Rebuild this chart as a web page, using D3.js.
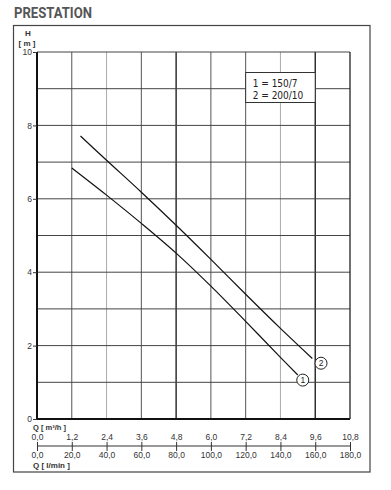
<!DOCTYPE html>
<html>
<head>
<meta charset="utf-8">
<script src="https://cdn.jsdelivr.net/npm/d3@7"></script>
<style>
  body { margin: 0; background: #fff; }
  text { font-family: "Liberation Sans", Arial, sans-serif; fill: #333; }
</style>
</head>
<body>
<div id="container"></div>
<script>
const width = 391;
const height = 490;

// chart data
const qTicks = [0, 1.2, 2.4, 3.6, 4.8, 6.0, 7.2, 8.4, 9.6, 10.8];      // m3/h
const lTicks = [0, 20, 40, 60, 80, 100, 120, 140, 160, 180];            // l/min
const hTicks = [0, 2, 4, 6, 8, 10];
const hGrid = [1, 2, 3, 4, 5, 6, 7, 8, 9, 10];

const curve1Q = [1.2, 2.4, 3.6, 4.8, 6.0, 7.2, 8.4, 9.0];
const curve1H = [6.84, 6.10, 5.33, 4.52, 3.62, 2.66, 1.68, 1.20];
const curve2Q = [1.5, 2.4, 3.6, 4.8, 6.0, 7.2, 8.4, 9.5];
const curve2H = [7.71, 7.05, 6.18, 5.28, 4.35, 3.40, 2.47, 1.65];

const curveLabels = ['1', '2'];
const labelQ = [9.17, 9.8];
const labelH = [1.06, 1.52];

const legendLines = ['1 = 150/7', '2 = 200/10'];

const fmt = v => d3.format('.1f')(v).replace('.', ',');

let svg = d3.select('#container').append('svg')
    .attr('width', width)
    .attr('height', height);

let x = d3.scaleLinear().domain([0, 10.8]).range([37, 350]);
let xl = d3.scaleLinear().domain([0, 180]).range([37, 350]);
let y = d3.scaleLinear().domain([0, 10]).range([419, 52]);

// title
svg.append('text')
    .attr('x', 14)
    .attr('y', 18)
    .attr('textLength', 78)
    .attr('lengthAdjust', 'spacingAndGlyphs')
    .style('font-family', 'Roboto, sans-serif')
    .style('font-weight', 'bold')
    .style('font-size', '14px')
    .style('fill', '#555')
    .text('PRESTATION');

// outer frame
svg.append('rect')
    .attr('x', 13.5)
    .attr('y', 25.5)
    .attr('width', 356.5)
    .attr('height', 446.5)
    .attr('fill', 'none')
    .attr('stroke', '#444')
    .attr('stroke-width', 1.2);

// grid
let grid = svg.append('g');
grid.selectAll('line.v')
    .data(qTicks.slice(1, -1))
    .join('line')
    .attr('class', 'v')
    .attr('x1', d => x(d)).attr('x2', d => x(d))
    .attr('y1', y(0)).attr('y2', y(10))
    .attr('stroke', d => d === 4.8 || d === 9.6 ? '#111' : (d === 2.4 || d === 8.4 ? '#aaa' : '#555'))
    .attr('stroke-width', d => d === 4.8 || d === 9.6 ? 1.3 : 1);

grid.selectAll('line.h')
    .data(hGrid)
    .join('line')
    .attr('class', 'h')
    .attr('x1', x(0)).attr('x2', x(10.8))
    .attr('y1', d => y(d)).attr('y2', d => y(d))
    .attr('stroke', '#444')
    .attr('stroke-width', 1);

// plot border
svg.append('line')
    .attr('x1', x(0)).attr('x2', x(0)).attr('y1', y(0)).attr('y2', y(10))
    .attr('stroke', '#111').attr('stroke-width', 2);
svg.append('line')
    .attr('x1', x(0)).attr('x2', x(10.8)).attr('y1', y(0)).attr('y2', y(0))
    .attr('stroke', '#111').attr('stroke-width', 1.8);
svg.append('line')
    .attr('x1', x(10.8)).attr('x2', x(10.8)).attr('y1', y(0)).attr('y2', y(10))
    .attr('stroke', '#222').attr('stroke-width', 1.3);

// legend box
let legend = svg.append('g');
legend.append('rect')
    .attr('x', x(7.2))
    .attr('y', 72.5)
    .attr('width', x(9.6) - x(7.2))
    .attr('height', 30)
    .attr('fill', '#fff')
    .attr('stroke', '#333')
    .attr('stroke-width', 1);
legend.selectAll('text')
    .data(legendLines)
    .join('text')
    .attr('x', x(7.2) + 7)
    .attr('y', (d, i) => 86.5 + i * 12.5)
    .style('font-family', '"Liberation Sans Narrow", "DejaVu Sans Condensed", sans-serif')
    .style('font-size', '10px')
    .style('fill', '#222')
    .text(d => d);

// curves
let line = d3.line()
    .x(d => x(d[0]))
    .y(d => y(d[1]))
    .curve(d3.curveCatmullRom);

let curves = [d3.zip(curve1Q, curve1H), d3.zip(curve2Q, curve2H)];
svg.append('g')
    .selectAll('path')
    .data(curves)
    .join('path')
    .attr('d', line)
    .attr('fill', 'none')
    .attr('stroke', '#111')
    .attr('stroke-width', 1.2);

// curve markers
let marks = svg.append('g')
    .selectAll('g')
    .data(curveLabels)
    .join('g')
    .attr('transform', (d, i) => 'translate(' + x(labelQ[i]) + ',' + y(labelH[i]) + ')');
marks.append('circle')
    .attr('r', 6)
    .attr('fill', '#fff')
    .attr('stroke', '#222')
    .attr('stroke-width', 1);
marks.append('text')
    .attr('text-anchor', 'middle')
    .attr('y', 3)
    .style('font-size', '8.5px')
    .style('fill', '#222')
    .text(d => d);

// y axis
let yAxis = svg.append('g')
    .attr('transform', 'translate(' + x(0) + ',0)')
    .call(d3.axisLeft(y).tickValues(hTicks).tickSize(4).tickPadding(1).tickFormat(d3.format('d')));
yAxis.select('.domain').remove();
yAxis.selectAll('line').attr('stroke', '#333');
yAxis.selectAll('text').style('font-size', '8.5px').style('fill', '#333').style('font-family', '"Liberation Sans", Arial, sans-serif');

svg.append('text')
    .attr('x', 28).attr('y', 35.5)
    .attr('text-anchor', 'middle')
    .style('font-size', '8px').style('font-weight', 'bold')
    .text('H');
svg.append('text')
    .attr('x', 27).attr('y', 45.5)
    .attr('text-anchor', 'middle')
    .style('font-size', '8px').style('font-weight', 'bold')
    .text('[ m ]');

// double x axis
let axisY = 446;
let topAxis = svg.append('g')
    .attr('transform', 'translate(0,' + axisY + ')')
    .call(d3.axisTop(x).tickValues(qTicks).tickSize(4).tickPadding(2).tickFormat(fmt));
let bottomAxis = svg.append('g')
    .attr('transform', 'translate(0,' + axisY + ')')
    .call(d3.axisBottom(xl).tickValues(lTicks).tickSize(5).tickPadding(1).tickFormat(fmt));
bottomAxis.select('.domain').remove();
topAxis.select('.domain').attr('d', 'M' + x(0) + ',0H' + x(10.8)).attr('stroke', '#333');
[topAxis, bottomAxis].forEach(a => {
    a.selectAll('line').attr('stroke', '#333');
    a.selectAll('text').style('font-size', '8.5px').style('fill', '#333').style('font-family', '"Liberation Sans", Arial, sans-serif');
});

svg.append('text')
    .attr('x', 33).attr('y', 430)
    .style('font-size', '7.5px').style('font-weight', 'bold')
    .text('Q [ m³/h ]');
svg.append('text')
    .attr('x', 33).attr('y', 468)
    .style('font-size', '8px').style('font-weight', 'bold')
    .text('Q [ l/min ]');
</script>
</body>
</html>
